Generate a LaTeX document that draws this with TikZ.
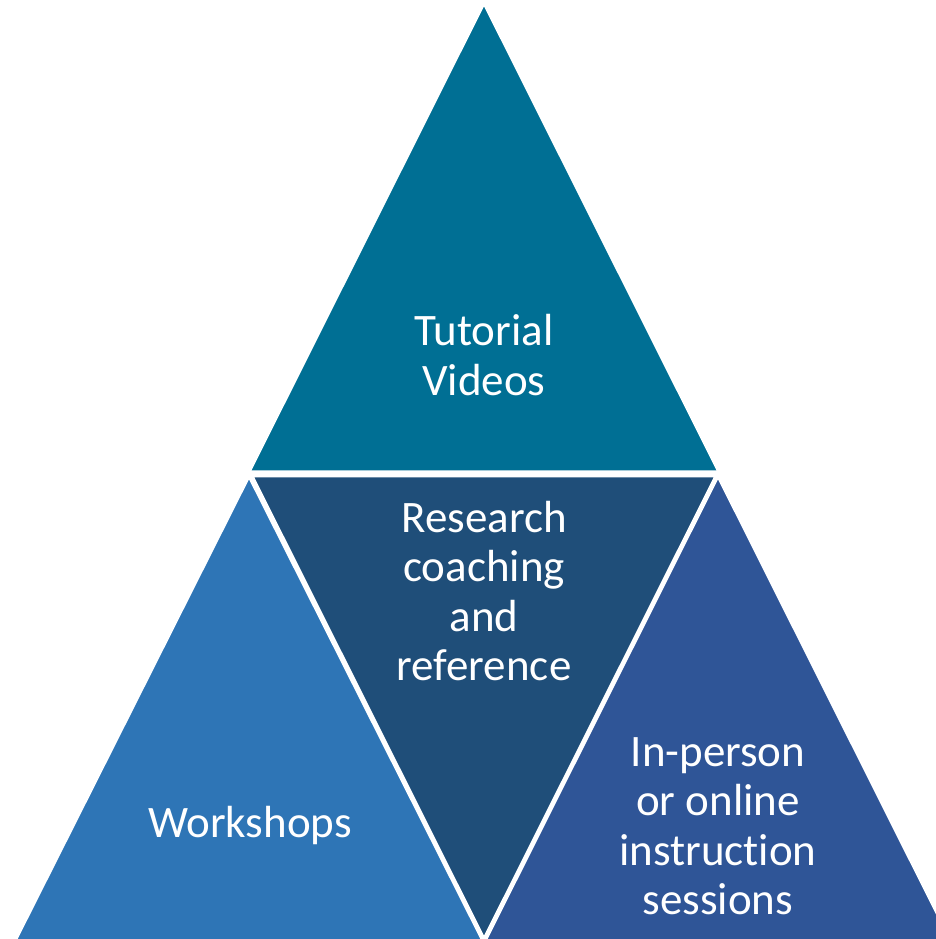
\documentclass[tikz,border=0pt]{standalone}
\usepackage{fontspec}
\setmainfont{Carlito}[Ligatures=NoCommon]
\usetikzlibrary{positioning}

\definecolor{tealtop}{HTML}{006F94}
\definecolor{navymid}{HTML}{1F4E79}
\definecolor{blueleft}{HTML}{2E75B6}
\definecolor{blueright}{HTML}{2F5597}

\begin{document}
\begin{tikzpicture}[
    x=1pt, y=1pt,
    facet/.style={draw=white, line width=3pt, line join=miter},
    label/.style={text=white, align=center, font=\fontsize{45}{49.5}\selectfont}
]

% Frame
\useasboundingbox (0,0) rectangle (936,939);
\clip (0,0) rectangle (936,939);

% Triangles
\fill[facet, fill=tealtop] (484,936) -- (249,467) -- (719,467) -- cycle;
\fill[facet, fill=blueleft] (249,463) -- (15,-2) -- (483,-2) -- cycle;
\fill[facet, fill=navymid] (252,463) -- (716,463) -- (484,0) -- cycle;
\fill[facet, fill=blueright] (718,463) -- (485,-2) -- (951,-2) -- cycle;
\draw[white, line width=3pt] (249,465) -- (719,465);

% Labels
\node[label] (videos) at (484,584) {Tutorial\\Videos};
\node[label] (coaching) at (484,348) {Research\\coaching\\and\\reference};
\node[label] (workshops) at (250,113) {Workshops};
\node[label] (sessions) at (718,113) {In-person\\or online\\instruction\\sessions};

\end{tikzpicture}
\end{document}
